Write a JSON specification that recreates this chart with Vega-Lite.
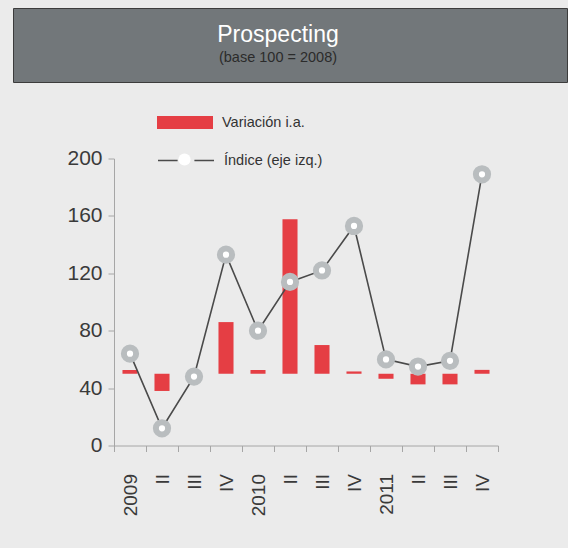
{
  "$schema": "https://vega.github.io/schema/vega-lite/v6.json",
  "background": "#ebebeb",
  "padding": {"left": 12, "top": 7, "right": 1, "bottom": 33},
  "spacing": 64.5,
  "config": {"view": {"stroke": null}, "font": "Liberation Sans"},
  "vconcat": [
    {
      "width": 554,
      "height": 74,
      "view": {"fill": "#72777a", "stroke": "#3c3c3c", "strokeWidth": 1},
      "title": {
        "text": "Prospecting",
        "subtitle": "(base 100 = 2008)",
        "anchor": "middle",
        "orient": "top",
        "offset": -56,
        "dx": -12,
        "color": "#ffffff",
        "font": "Liberation Sans",
        "fontSize": 23,
        "fontWeight": "normal",
        "subtitleFont": "Liberation Sans",
        "subtitleFontSize": 14.5,
        "subtitleColor": "#2b2b2b",
        "subtitlePadding": 4
      },
      "data": {"values": []},
      "mark": "point"
    },
    {
      "spacing": 13,
      "hconcat": [
        {
          "width": 40,
          "height": 10,
          "data": {"values": []},
          "mark": "point"
        },
        {
          "width": 384,
          "height": 287,
          "data": {
            "values": [
              {"q": "2009", "indice": 64, "variacion": 2.6},
              {"q": "2009 II", "indice": 12, "variacion": -12},
              {"q": "2009 III", "indice": 48, "variacion": 0},
              {"q": "2009 IV", "indice": 133, "variacion": 36},
              {"q": "2010", "indice": 80, "variacion": 2.6},
              {"q": "2010 II", "indice": 114, "variacion": 107.6},
              {"q": "2010 III", "indice": 122, "variacion": 20},
              {"q": "2010 IV", "indice": 153, "variacion": 1.6},
              {"q": "2011", "indice": 60, "variacion": -3.5},
              {"q": "2011 II", "indice": 55, "variacion": -7.4},
              {"q": "2011 III", "indice": 59, "variacion": -7.4},
              {"q": "2011 IV", "indice": 189, "variacion": 2.7}
            ]
          },
          "resolve": {"scale": {"y": "independent"}},
          "encoding": {
            "x": {
              "field": "q",
              "type": "ordinal",
              "sort": null,
              "scale": {"type": "band", "paddingInner": 0, "paddingOuter": 0},
              "axis": {
                "title": null,
                "labelExpr": "length(split(datum.value, ' ')) > 1 ? split(datum.value, ' ')[1] : datum.value",
                "labelAngle": -90,
                "labelFont": "Liberation Sans",
                "labelFontSize": 19,
                "labelColor": "#3a3a3a",
                "labelPadding": 22,
                "tickBand": "extent",
                "tickSize": 6,
                "domainColor": "#a6a6a6",
                "tickColor": "#a6a6a6",
                "grid": false
              }
            }
          },
          "layer": [
            {
              "mark": {"type": "bar", "width": {"band": 0.47}},
              "encoding": {
                "y": {"field": "variacion", "type": "quantitative", "scale": {"domain": [-50, 150], "nice": false, "zero": false}, "axis": null},
                "y2": {"datum": 0},
                "fill": {
                  "datum": "Variación i.a.",
                  "scale": {"range": ["#e53e44"]},
                  "legend": {
                    "orient": "none",
                    "legendX": 144,
                    "legendY": 86.5,
                    "title": null,
                    "padding": 0,
                    "symbolType": "M-1,-0.232H1V0.232H-1Z",
                    "symbolSize": 3136,
                    "symbolStrokeWidth": 0,
                    "symbolOpacity": 1,
                    "labelFont": "Liberation Sans",
                    "labelFontSize": 14.5,
                    "labelColor": "#333333",
                    "labelOffset": 9
                  }
                }
              }
            },
            {
              "mark": {"type": "line", "color": "#4a4a4a", "strokeWidth": 1.6},
              "encoding": {
                "y": {
                  "field": "indice",
                  "type": "quantitative",
                  "scale": {"domain": [0, 200], "nice": false},
                  "axis": {
                    "values": [0, 40, 80, 120, 160, 200],
                    "grid": false,
                    "title": null,
                    "domainColor": "#a6a6a6",
                    "tickColor": "#a6a6a6",
                    "tickSize": 6,
                    "labelFont": "Liberation Sans",
                    "labelFontSize": 21,
                    "labelColor": "#3a3a3a",
                    "labelPadding": 6
                  }
                },
                "stroke": {
                  "datum": "Índice (eje izq.)",
                  "scale": {"range": ["#4a4a4a"]},
                  "legend": {
                    "orient": "none",
                    "legendX": 144,
                    "legendY": 123.5,
                    "title": null,
                    "padding": 0,
                    "symbolType": "M-1,0H-0.3M0.3,0H1",
                    "symbolSize": 3136,
                    "symbolStrokeWidth": 1.6,
                    "symbolFillColor": "transparent",
                    "symbolOpacity": 1,
                    "labelFont": "Liberation Sans",
                    "labelFontSize": 14.5,
                    "labelColor": "#333333",
                    "labelOffset": 9
                  }
                }
              }
            },
            {
              "mark": {"type": "point", "filled": false, "fill": "#ffffff", "stroke": "#b9bdbf", "strokeWidth": 6, "size": 150, "opacity": 1},
              "encoding": {
                "y": {"field": "indice", "type": "quantitative", "scale": {"domain": [0, 200], "nice": false}, "axis": null},
                "shape": {
                  "datum": "marcador",
                  "scale": {"range": ["circle"]},
                  "legend": {
                    "orient": "none",
                    "legendX": 162,
                    "legendY": 142,
                    "title": null,
                    "padding": 0,
                    "symbolType": "circle",
                    "symbolSize": 150,
                    "symbolStrokeWidth": 6,
                    "symbolStrokeColor": "#b9bdbf",
                    "symbolFillColor": "#ffffff",
                    "symbolOpacity": 1,
                    "labelExpr": "''"
                  }
                }
              }
            }
          ]
        }
      ]
    }
  ]
}
